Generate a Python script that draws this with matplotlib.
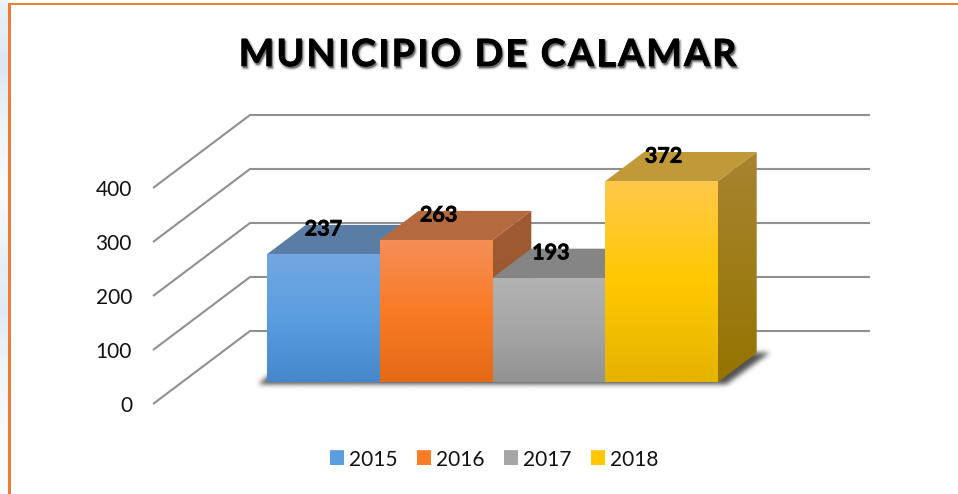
import matplotlib
matplotlib.use('Agg')
import matplotlib.pyplot as plt
import matplotlib.patheffects as pe
from matplotlib.colors import LinearSegmentedColormap
from matplotlib.patches import Patch, Polygon, Rectangle
from matplotlib.path import Path
from matplotlib.text import Text
from matplotlib.transforms import Affine2D
import numpy as np

plt.rcParams['font.family'] = ['Lato', 'DejaVu Sans']

# Data
years = ['2015', '2016', '2017', '2018']
values = [237, 263, 193, 372]
ticks = [0, 100, 200, 300, 400]
title = 'MUNICIPIO DE CALAMAR'

# front / mid / low colours of the bar faces, then top face, then side face
front_cols = [['#72a7e0', '#5b9ee0', '#4587cb'],
              ['#f48f58', '#fa7b26', '#e56a16'],
              ['#b3b3b3', '#a6a6a6', '#929292'],
              ['#ffc94a', '#ffc800', '#e5b400']]
top_cols = ['#5a7da6', '#b5693f', '#858585', '#c09a38']
side_cols = [['#4a6f98', '#3c6590'],
             ['#a05c30', '#95552a'],
             ['#7a7a7a', '#6e6e6e'],
             ['#a88430', '#957400']]
strip_cols = ['#f9fbfe', '#f8fafe', '#f0f5fb', '#dfe9f5', '#edf2f9',
              '#f9fbfe', '#eef3f9', '#dce7f3', '#edf2f8']

W, H = 958, 494
PX_X = 112.7   # pixels per category
PX_Y = 0.54    # pixels per value unit
X0 = 238       # pixel of category 0 on the front plane
Y0 = 404       # pixel of value 0 on the front plane
DX = 97 / PX_X
DY = 73 / PX_Y
T_FRONT, T_BACK = 0.30, 0.70
GAP = 0.747


class TrackedText(Text):
    # one text object, drawn letter by letter with extra spacing (px)
    tracking = 0

    def draw(self, renderer):
        s = self.get_text()
        prop = self.get_fontproperties()
        x, y = self.get_transform().transform(self.get_position())
        widths = [renderer.get_text_width_height_descent(s[:k], prop, False)[0] if k else 0
                  for k in range(len(s) + 1)]
        x -= (widths[-1] + self.tracking * (len(s) - 1)) / 2
        for k, ch in enumerate(s):
            if ch == ' ':
                continue
            t = Text(x + widths[k] + k * self.tracking, y, ch, fontproperties=prop, color=self.get_color(),
                     va=self.get_va(), ha='left', transform=Affine2D(),
                     path_effects=self.get_path_effects())
            t.set_figure(self.get_figure())
            t.draw(renderer)


def proj(x, v, t):
    # oblique projection, t is depth from 0 (front) to 1 (back wall)
    return x + t * DX, v + t * DY


def gradient(ax, pts, cols, z):
    pts = np.array(pts)
    cmap = LinearSegmentedColormap.from_list('g', cols[::-1])
    ext = [pts[:, 0].min(), pts[:, 0].max(), pts[:, 1].min(), pts[:, 1].max()]
    im = ax.imshow(np.linspace(0, 1, 128)[:, None], extent=ext, origin='lower',
                   aspect='auto', cmap=cmap, zorder=z, interpolation='bilinear')
    poly = Polygon(pts, closed=True, transform=ax.transData, fill=False, lw=0)
    ax.add_patch(poly)
    im.set_clip_path(poly)


def blurred_shadow(ax, pts, z, sigma=2.5, strength=0.85):
    # soft shadow: polygon mask on a pixel grid, blurred with a gaussian
    xs = np.arange(150, 900)
    ys = np.arange(320, 410)
    gx = (xs - X0) / PX_X
    gy = (Y0 - ys) / PX_Y
    mx, my = np.meshgrid(gx, gy)
    mask = Path(pts).contains_points(np.c_[mx.ravel(), my.ravel()]).reshape(mx.shape).astype(float)
    k = np.exp(-0.5 * (np.arange(-9, 10) / sigma) ** 2)
    k /= k.sum()
    mask = np.apply_along_axis(lambda r: np.convolve(r, k, mode='same'), 0, mask)
    mask = np.apply_along_axis(lambda r: np.convolve(r, k, mode='same'), 1, mask)
    rgba = np.zeros(mask.shape + (4,))
    rgba[..., :3] = 0.2
    rgba[..., 3] = mask * strength
    ax.imshow(rgba, extent=[gx[0], gx[-1], gy[-1], gy[0]], origin='upper', aspect='auto', zorder=z,
              interpolation='bilinear')


fig = plt.figure(figsize=(W / 100, H / 100), dpi=100)
ax = fig.add_axes([0, 0, 1, 1])

# page background, blue strip and orange frame
strip = LinearSegmentedColormap.from_list('s', strip_cols)
ax.imshow(np.linspace(0, 1, 128)[:, None], extent=[-X0 / PX_X, (8 - X0) / PX_X, -(H - Y0) / PX_Y, Y0 / PX_Y],
          origin='lower', aspect='auto', cmap=strip, zorder=0)
fig.add_artist(Rectangle((7.5 / W, 0), 3 / W, 1 - 3 / H, color='#ed7d31', lw=0))
fig.add_artist(Rectangle((7.5 / W, 1 - 5 / H), 1 - 7.5 / W, 2 / H, color='#ed7d31', lw=0))

# gridlines with the left wall
for v in ticks:
    xs = [-0.754, proj(-0.754, v, 1)[0], proj(len(years) + GAP, v, 1)[0]]
    ys = [v, v + DY, v + DY]
    ax.plot(xs, ys, color='#909090', lw=1.5, zorder=1, solid_capstyle='butt', solid_joinstyle='miter')
    ax.text(-0.754, v, str(v), fontsize=15, ha='right', va='center', color='#111111',
            transform=ax.transData + Affine2D().translate(-21, -1.5))

# floor shadow, follows the floor under the bars
n = len(years)
s = [proj(0, 0, T_FRONT), proj(0, 0, T_BACK), proj(n, 0, T_BACK), proj(n, 0, T_FRONT)]
dx_px, dy_px = 1 / PX_X, 1 / PX_Y
blurred_shadow(ax, [(s[0][0] - 9 * dx_px, s[0][1] - 2 * dy_px),
                    (s[1][0] - 9 * dx_px, s[1][1]),
                    (s[2][0] + 13 * dx_px, s[2][1]),
                    (s[3][0] + 9 * dx_px, s[3][1] - 2 * dy_px)], 2)

# bars, left to right so that each one covers the side of the previous one
for i, v in enumerate(values):
    z = 3 + i * 0.1
    fl = proj(i, 0, T_FRONT)
    fr = proj(i + 1, 0, T_FRONT)
    tl = proj(i, v, T_FRONT)
    tr = proj(i + 1, v, T_FRONT)
    bl = proj(i, v, T_BACK)
    br = proj(i + 1, v, T_BACK)
    lr = proj(i + 1, 0, T_BACK)
    gradient(ax, [fr, lr, br, tr], side_cols[i], z)
    ax.add_patch(Polygon([tl, bl, br, tr], closed=True, color=top_cols[i], lw=0, zorder=z + 0.01))
    gradient(ax, [fl, fr, tr, tl], front_cols[i], z + 0.02)

# value labels sit a little right of the bar centre, except the first
label_shift = [0, 2.5, 2, 2]
for i, v in enumerate(values):
    cx, cy = proj(i + 0.5, v, T_FRONT)
    ax.annotate(str(v), (cx, cy), xytext=(label_shift[i] * 0.72, 25 * 0.72), textcoords='offset points',
                fontsize=15.5, fontweight='bold', ha='center', va='center', color='black', zorder=10,
                path_effects=[pe.withStroke(linewidth=0.5, foreground='black')])

ax.set_xlim(-X0 / PX_X, (W - X0) / PX_X)
ax.set_ylim(-(H - Y0) / PX_Y, Y0 / PX_Y)
ax.axis('off')

# title with soft shadow and wide letter spacing
ttl = TrackedText(487.5 / W, 1 - 66 / H, title, fontsize=27, fontweight='bold', ha='center', va='baseline',
                  color='black', transform=fig.transFigure,
                  path_effects=[pe.Stroke(offset=(1, -1.5), linewidth=3, foreground='#999999', alpha=0.25),
                                pe.Stroke(offset=(1, -1.5), linewidth=1.2, foreground='#777777', alpha=0.4),
                                pe.withStroke(linewidth=0.5, foreground='black')])
ttl.tracking = 2.3
fig.add_artist(ttl)

# legend
handles = [Patch(facecolor=c[1], label=y) for c, y in zip(front_cols, years)]
leg = fig.legend(handles=handles, ncol=4, loc='center', bbox_to_anchor=(494 / W, 1 - 459.5 / H), frameon=False,
                 fontsize=15, handlelength=0.67, handleheight=0.67, handletextpad=0.24,
                 columnspacing=0.93, labelcolor='#111111')
fig.canvas.draw()
for p, c in zip(leg.get_patches(), front_cols):
    bb = p.get_window_extent().transformed(ax.transData.inverted())
    cmap = LinearSegmentedColormap.from_list('g', c[::-1])
    ax.imshow(np.linspace(0, 1, 32)[:, None], extent=[bb.x0, bb.x1, bb.y0, bb.y1], origin='lower',
              aspect='auto', cmap=cmap, zorder=11)
ax.set_xlim(-X0 / PX_X, (W - X0) / PX_X)
ax.set_ylim(-(H - Y0) / PX_Y, Y0 / PX_Y)

fig.savefig('out.png', dpi=100)
